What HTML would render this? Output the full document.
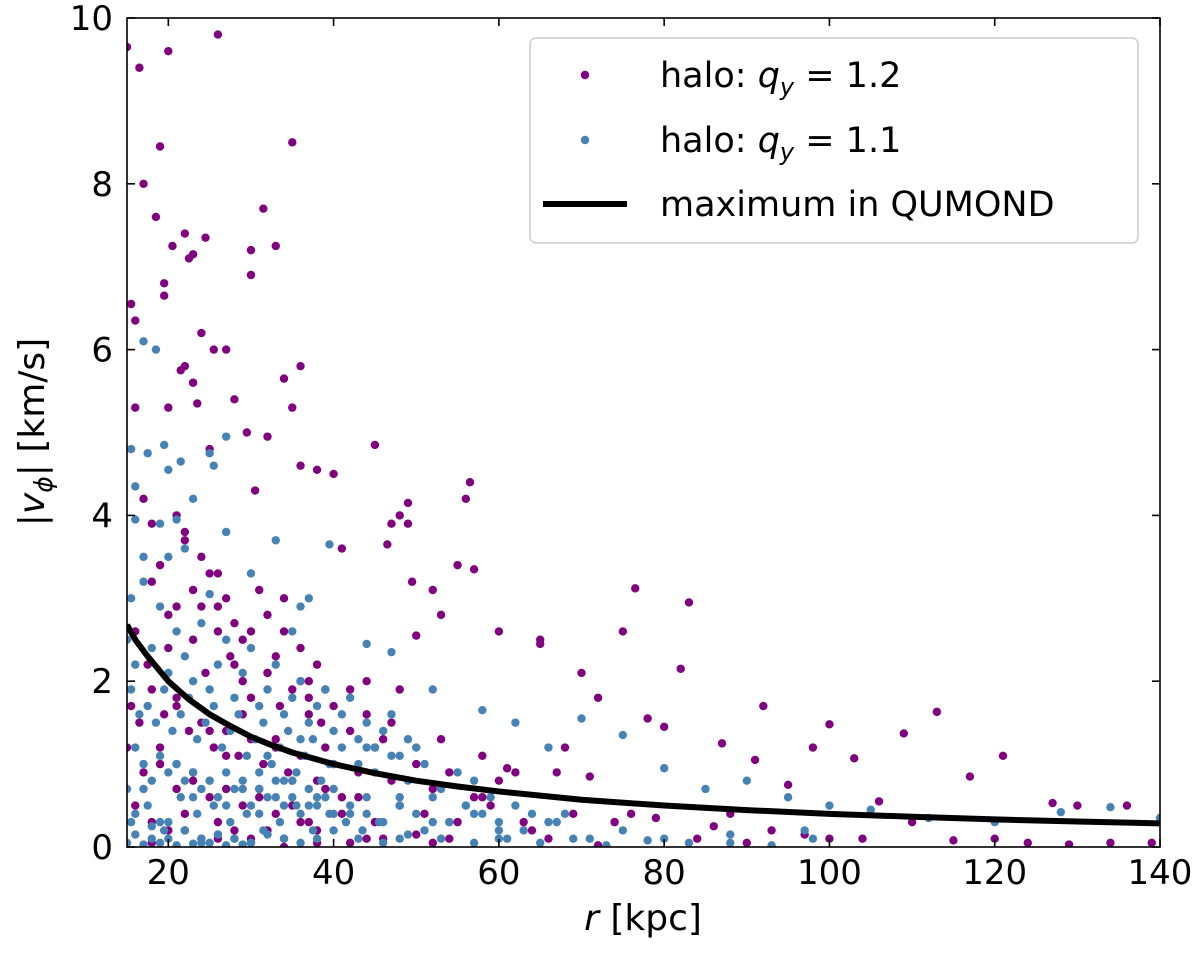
<!DOCTYPE html>
<html><head><meta charset="utf-8">
<style>
body{margin:0;background:#fff;}
svg{display:block;font-family:"DejaVu Sans","Liberation Sans",sans-serif;}
</style></head>
<body>
<svg id="chart" width="1200" height="953">
<defs><clipPath id="clip"><rect x="127" y="18" width="1033" height="829"/></clipPath></defs>
<g id="pts" clip-path="url(#clip)"></g>
<g id="axes"></g>
</svg>
<script>
const xTicks=[20,40,60,80,100,120,140];
const yTicks=[0,2,4,6,8,10];
const purpleR=[15,16.5,20,26,17,19,18.5,35,31.5,22,24.5,22.5,23,20.5,30,33,30,19.5,19.5,15.5,16,24,25.5,27,21.5,22,36,34,23,20,16,28,23.5,35,29.5,32,45,25,30.5,36,38,40,49,48,47,49,56.5,56,41,46.5,55,57,52,49.5,76.5,83,60,65,65,75,53,50,70,82,72,78,92,100,113,109,98,87,80,91,103,121,117,127,136,130,95,106,88,100,110,120,129,68,62,58,63,
17,18,19,21,22,23,24,25,26,27,
28,29,31,32,33,34,36,37,38,39,
16,17.5,20,21,23,24.5,26,27.5,29,30,
32,33.5,35,37,38.5,40,42,44,46,48,
15.5,16.5,18,19.5,21,22.5,24,25.5,27,28.5,
30,31.5,33,34.5,36,38,40,43,45,47,
50,52,54,57,60,15,17,19,21,23,
25,27,29,31,33,35,37,39,41,43,
45,48,51,55,59,64,69,74,16,18,
20,22,24,26,28,30,32,34,36,38,
42,46,50,54,18,22,26,30,34,38,
44,52,66,72,84,90,
44,42,47,53,58,61,67,71,76,79,86,93,97,104,115,124,134,139,
18,20,22,24,26,28,30,32,34,36,19,21,23,25,27,29,31,33,35,37,39,41];
const purpleV=[9.65,9.4,9.6,9.8,8,8.45,7.6,8.5,7.7,7.4,7.35,7.1,7.15,7.25,7.2,7.25,6.9,6.8,6.65,6.55,6.35,6.2,6,6,5.75,5.8,5.8,5.65,5.6,5.3,5.3,5.4,5.35,5.3,5,4.95,4.85,4.8,4.3,4.6,4.55,4.5,4.15,4,3.9,3.9,4.4,4.2,3.6,3.65,3.4,3.35,3.1,3.2,3.12,2.95,2.6,2.5,2.45,2.6,2.8,2.55,2.1,2.15,1.8,1.55,1.7,1.48,1.63,1.37,1.2,1.25,1.45,1.05,1.07,1.1,0.85,0.53,0.5,0.5,0.75,0.55,0.4,0.1,0.3,0.1,0.03,1.2,0.9,0.6,0.3,
4.2,3.9,3.4,4.0,3.7,3.1,3.5,3.3,2.9,3.0,
2.7,2.5,3.1,2.8,2.3,2.6,2.4,2.0,2.2,1.9,
2.6,2.2,2.4,2.9,2.5,2.1,2.6,2.3,2.0,1.8,
2.1,1.7,1.9,1.6,1.5,1.7,1.4,1.6,1.3,1.9,
1.7,1.5,1.9,1.6,1.8,1.4,1.5,1.2,1.4,1.1,
1.3,1.0,1.2,0.9,1.1,0.8,1.0,0.9,1.2,0.8,
1.0,0.7,0.9,0.6,0.8,1.2,0.9,1.0,0.7,0.8,
0.6,0.7,0.5,0.6,0.4,0.5,0.3,0.7,0.4,0.6,
0.3,0.5,0.4,0.3,0.5,0.2,0.4,0.3,0.5,0.3,
0.2,0.4,0.1,0.3,0.2,0.1,0.2,0.1,0.3,0.2,
0.05,0.1,0.15,0.1,0.05,0.2,0.1,0.05,0.0,0.05,
0.1,0.05,0.1,0.02,0.1,0.05,
2.0,1.9,1.5,1.3,1.1,0.95,0.9,0.85,0.4,0.35,0.25,0.2,0.15,0.1,0.08,0.05,0.05,0.05,
3.2,2.8,3.8,2.9,3.3,2.2,2.6,2.1,3.0,2.0,1.2,1.7,0.9,1.4,1.1,1.6,0.7,1.3,0.8,1.8,1.2,0.6];
const blueR=[17,18.5,15.5,17.5,19.5,21.5,25,25.5,27,16,20,23,16,19,21,22,27,39.5,17,20,15.5,30,25,36,44,47,52,58,62,70,75,66,80,85,90,95,100,105,112,120,128,134,140,97,88,80,
15,16,17,18,19,20,21,22,23,24,25,26,27,28,29,30,31,32,33,34,35,36,37,38,39,40,41,42,43,44,45,46,47,48,49,50,15.5,16.5,17.5,18.5,19.5,20.5,21.5,22.5,23.5,24.5,25.5,26.5,27.5,28.5,29.5,30.5,31.5,32.5,33.5,34.5,35.5,36.5,37.5,38.5,39.5,41,43,45,47,49,51,53,55,57,59,15,16,17,18,19,20,21,22,23,24,25,26,27,28,29,30,31,32,33,34,35,36,37,38,39,40,42,44,46,48,50,52,54,56,58,60,62,64,66,68,15.5,17.5,19.5,21.5,23.5,25.5,27.5,29.5,31.5,33.5,35.5,37.5,39.5,41.5,43.5,45.5,48,51,54,57,60,63,67,71,75,16,18,20,22,24,26,28,30,32,34,36,38,40,43,46,49,53,57,61,65,69,73,78,83,88,93,98,15,17,19,21,23,25,27,29,31,33,35,37,40,44,48,52,56,60,
16,18,20,22,24,26,28,30,32,34,36,38,40,42,44,17,19,21,23,25,27,29,31,33,35,37];
const blueV=[6.1,6,4.8,4.75,4.85,4.65,4.75,4.6,4.95,4.35,4.55,4.2,3.95,3.9,3.95,3.6,3.8,3.65,3.5,3.5,3,3.3,3.05,2.9,2.45,2.35,1.9,1.65,1.5,1.55,1.35,1.2,0.95,0.7,0.8,0.6,0.5,0.45,0.35,0.3,0.42,0.48,0.35,0.2,0.15,0.1,
2.5,2.2,3.2,2.4,2.9,2.1,2.6,2.3,2.0,2.7,1.9,2.2,2.5,1.8,2.1,2.4,1.7,1.9,2.2,1.6,1.8,2.0,1.5,1.7,1.9,1.4,1.6,1.8,1.3,1.5,1.2,1.4,1.6,1.1,1.3,1.2,1.9,1.6,1.7,1.5,1.9,1.4,1.6,1.8,1.3,1.5,1.7,1.2,1.4,1.6,1.1,1.3,1.5,1.0,1.2,1.4,0.9,1.1,1.3,0.8,1.0,1.2,1.0,0.9,1.1,0.8,1.0,0.7,0.9,0.8,0.6,0.7,1.2,1.0,0.8,1.1,0.9,1.0,0.8,0.9,0.7,0.8,0.6,0.9,0.7,0.8,0.5,0.7,0.6,0.8,0.5,0.6,0.4,0.7,0.5,0.6,0.4,0.5,0.6,0.3,0.5,0.4,0.6,0.3,0.5,0.4,0.3,0.5,0.4,0.3,0.4,0.3,0.5,0.2,0.6,0.4,0.5,0.3,0.4,0.2,0.3,0.5,0.2,0.4,0.3,0.2,0.3,0.1,0.2,0.3,0.4,0.1,0.2,0.3,0.1,0.2,0.15,0.25,0.1,0.2,0.05,0.15,0.1,0.05,0.15,0.1,0.05,0.1,0.2,0.1,0.05,0.15,0.1,0.05,0.1,0.05,0.1,0.02,0.08,0.05,0.05,0.02,0.1,0.05,0.03,0.05,0.02,0.04,0.05,0.02,0.03,
0.9,0.6,0.8,0.5,0.7,0.4,0.6,0.3,0.5,0.2,0.4,0.1,0.3,0.2,0.1,0.15,0.1,0.05,
1.1,0.8,1.3,0.6,1.0,0.4,1.2,0.7,0.3,1.0,0.6,0.8,0.5,0.7,0.4,3.7,2.6,3.0,2.2,2.8,2.0,2.4,1.6,2.1,1.4,1.5];
const curveR=[15,16,17.5,19,20,22.5,25,27.5,30,32.5,35,40,45,50,55,60,70,80,90,100,110,120,130,140];
const curveV=[2.68,2.5,2.3,2.12,2.0,1.78,1.6,1.46,1.33,1.23,1.14,1.0,0.89,0.8,0.73,0.67,0.57,0.5,0.445,0.4,0.365,0.333,0.307,0.285];

const X0=127,X1=1160,Y0=847,Y1=18;
const xs=r=>X0+(r-15)/(140-15)*(X1-X0);
const ys=v=>Y0-v/10*(Y0-Y1);
const NS='http://www.w3.org/2000/svg';
const pts=document.getElementById('pts'),axes=document.getElementById('axes');
function mk(tag,attrs,parent){const e=document.createElementNS(NS,tag);for(const k in attrs)e.setAttribute(k,attrs[k]);parent.appendChild(e);return e;}
const nP=Math.min(purpleR.length,purpleV.length);
for(let i=0;i<nP;i++){const c=mk('circle',{cx:xs(purpleR[i]),cy:ys(purpleV[i]),r:4.2,fill:'#800080'},pts);

}
const nB=Math.min(blueR.length,blueV.length);
for(let i=0;i<nB;i++){const c=mk('circle',{cx:xs(blueR[i]),cy:ys(blueV[i]),r:4.2,fill:'#4682b4'},pts);

}
let d='';curveR.forEach((r,i)=>{d+=(i?'L':'M')+xs(r)+','+ys(curveV[i]);});
const line=mk('path',{d:d,fill:'none',stroke:'#000','stroke-width':6,'stroke-linejoin':'round'},pts);


const frame=mk('rect',{x:X0,y:Y1,width:X1-X0,height:Y0-Y1,fill:'none',stroke:'#000','stroke-width':1.6},axes);


xTicks.forEach(t=>{const x=xs(t);
mk('line',{x1:x,x2:x,y1:Y0,y2:Y0-8,stroke:'#000','stroke-width':1.6},axes);
mk('line',{x1:x,x2:x,y1:Y1,y2:Y1+8,stroke:'#000','stroke-width':1.6},axes);
const tx=mk('text',{x:x,y:884,'text-anchor':'middle','font-size':34},axes);tx.textContent=t;

});
yTicks.forEach(t=>{const y=ys(t);
mk('line',{x1:X0,x2:X0+8,y1:y,y2:y,stroke:'#000','stroke-width':1.6},axes);
mk('line',{x1:X1,x2:X1-8,y1:y,y2:y,stroke:'#000','stroke-width':1.6},axes);
const tx=mk('text',{x:113,y:y+12,'text-anchor':'end','font-size':34},axes);tx.textContent=t;

});
</script>
<svg width="1200" height="953" style="position:absolute;left:0;top:0">
<text x="643" y="930" text-anchor="middle" font-size="36" font-family="DejaVu Sans, Liberation Sans, sans-serif"><tspan font-style="italic">r</tspan> [kpc]</text>
<text transform="translate(44,432) rotate(-90)" text-anchor="middle" font-size="36" font-family="DejaVu Sans, Liberation Sans, sans-serif">|<tspan font-style="italic">v</tspan><tspan font-style="italic" font-size="25" dy="8">ϕ</tspan><tspan dy="-8">| [km/s]</tspan></text>
<g font-family="DejaVu Sans, Liberation Sans, sans-serif" font-size="35">
<rect x="530" y="38" width="608" height="205" rx="6" fill="#fff" fill-opacity="0.8" stroke="#ccc" stroke-width="1.5"/>
<circle cx="585" cy="75" r="4.2" fill="#800080"/>
<text x="660" y="87">halo: <tspan font-style="italic">q</tspan><tspan font-style="italic" font-size="24" dy="8">y</tspan><tspan dy="-8"> = 1.2</tspan></text>
<circle cx="585" cy="140" r="4.2" fill="#4682b4"/>
<text x="660" y="152">halo: <tspan font-style="italic">q</tspan><tspan font-style="italic" font-size="24" dy="8">y</tspan><tspan dy="-8"> = 1.1</tspan></text>
<line x1="543" x2="627" y1="204" y2="204" stroke="#000" stroke-width="6"/>
<text x="660" y="216">maximum in QUMOND</text>
</g>
</svg>
</body></html>
